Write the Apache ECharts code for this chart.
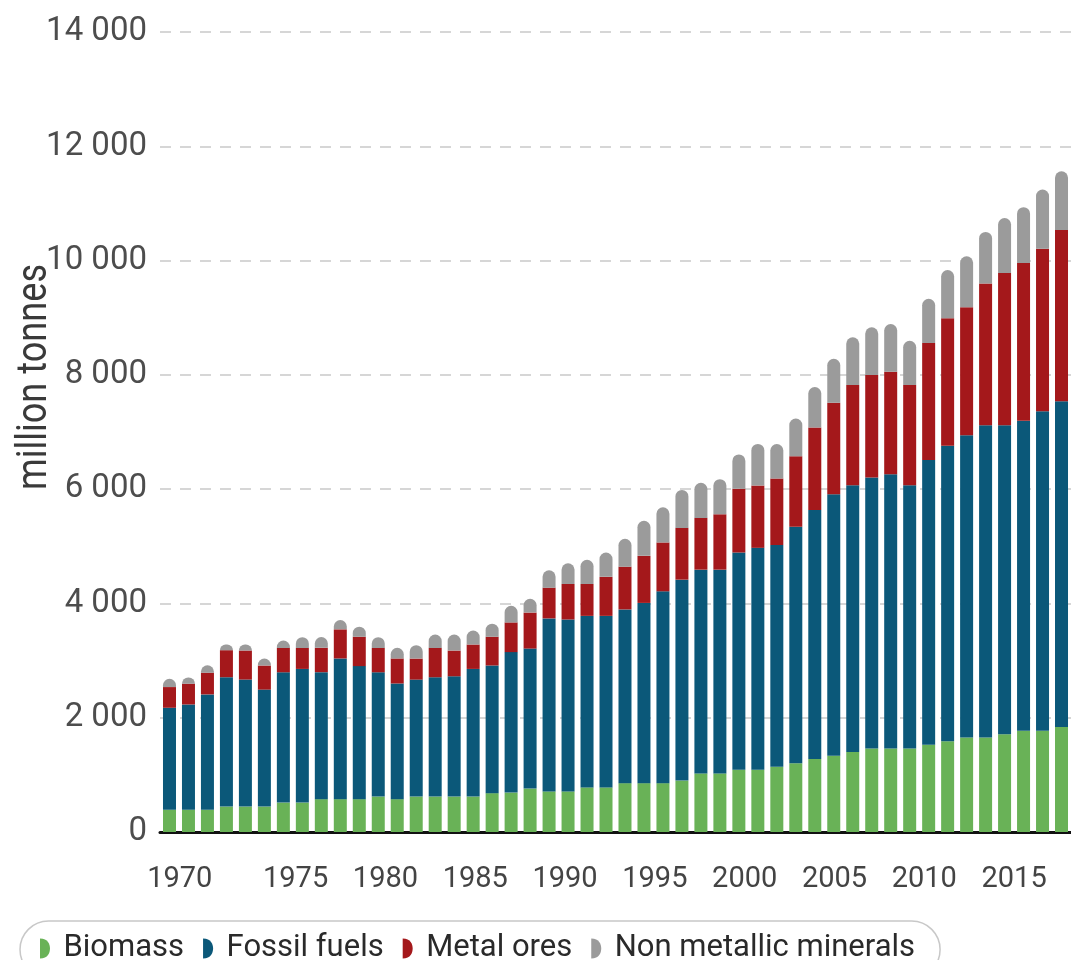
<!DOCTYPE html>
<html>
<head>
<meta charset="utf-8">
<script src="https://cdn.jsdelivr.net/npm/echarts@6/dist/echarts.min.js"></script>
<style>
  html, body { margin: 0; padding: 0; background: #ffffff; }
  #chart { width: 1071px; height: 960px; }
</style>
</head>
<body>
<div id="chart"></div>
<script>
// ---- data (million tonnes) ----
const years = [];
for (let y = 1970; y <= 2017; y++) years.push(String(y));

const biomass = [390, 390, 390, 445, 445, 445, 515, 515, 575, 575,
                 575, 620, 575, 620, 620, 620, 620, 680, 690, 760,
                 710, 710, 780, 780, 855, 855, 855, 900, 1025, 1025,
                 1090, 1090, 1140, 1205, 1277, 1336, 1402, 1461, 1461, 1461,
                 1528, 1586, 1653, 1653, 1711, 1770, 1770, 1836];

const fossilFuels = [1784, 1842, 2018, 2264, 2223, 2047, 2280, 2339, 2222, 2462,
                     2328, 2175, 2024, 2047, 2088, 2105, 2234, 2234, 2458, 2450,
                     3028, 3009, 3002, 3002, 3040, 3154, 3357, 3516, 3566, 3566,
                     3801, 3883, 3883, 4135, 4357, 4574, 4666, 4741, 4799, 4607,
                     4983, 5175, 5292, 5467, 5409, 5425, 5592, 5701];

const metalOres = [362, 363, 380, 473, 508, 421, 427, 368, 427, 509,
                   514, 427, 438, 368, 514, 450, 427, 503, 520, 630,
                   538, 621, 558, 684, 748, 824, 855, 906, 906, 969,
                   1115, 1090, 1165, 1235, 1444, 1602, 1753, 1794, 1795, 1753,
                   2045, 2229, 2237, 2479, 2663, 2763, 2846, 2997];

const nonMetallic = [146, 110, 128, 100, 106, 123, 129, 187, 187, 164,
                     176, 187, 187, 234, 234, 281, 245, 228, 290, 240,
                     305, 361, 424, 425, 488, 614, 615, 665, 614, 615,
                     601, 728, 602, 660, 710, 768, 835, 835, 835, 776,
                     776, 843, 893, 902, 960, 977, 1035, 1027];

const seriesNames = ['Biomass', 'Fossil fuels', 'Metal ores', 'Non metallic minerals'];
const yAxisTitle = 'million tonnes';

// ---- styling ----
const colors = ['#69b257', '#0b5879', '#a4181b', '#9b9b9b'];
const FONT = 'Roboto, "Noto Sans", sans-serif';
const dIcon = 'path://M0,0 C8,0 10,6 10,10 C10,14 8,20 0,20 Z';

function fmtThousands(v) {
  const s = String(Math.round(v));
  return s.replace(/\B(?=(\d{3})+(?!\d))/g, ' ');
}

const chart = echarts.init(document.getElementById('chart'), null, { renderer: 'canvas' });

const barBase = { type: 'bar', stack: 'total', barWidth: 13, xAxisIndex: 0, yAxisIndex: 0 };

const option = {
  backgroundColor: '#ffffff',
  animation: false,
  textStyle: { fontFamily: FONT },
  grid: [
    { left: 160, right: 0, top: 32, bottom: 128 },
    { left: 116, right: 1, top: 32, bottom: 128 }
  ],
  legend: {
    data: seriesNames.map((n, i) => ({ name: n, icon: dIcon, itemStyle: { color: colors[i] } })),
    left: 20,
    top: 921,
    orient: 'horizontal',
    itemWidth: 11,
    itemHeight: 20,
    itemGap: 19,
    padding: [12, 25, 14, 20],
    borderColor: '#c8c8c8',
    borderWidth: 1.5,
    borderRadius: 30,
    textStyle: { fontFamily: FONT, fontSize: 31, color: '#2a2a2a', padding: [0, 0, 0, 8] },
    selectedMode: false
  },
  xAxis: [
    {
      type: 'category',
      gridIndex: 0,
      data: years,
      boundaryGap: true,
      axisLine: { show: true, lineStyle: { color: '#111111', width: 3 } },
      axisTick: { show: false },
      axisLabel: { show: false },
      splitLine: { show: false }
    },
    {
      type: 'value',
      gridIndex: 1,
      min: 1965,
      max: 2018,
      interval: 5,
      axisLine: { show: false },
      axisTick: { show: false },
      splitLine: { show: false },
      axisLabel: {
        show: true,
        margin: 33,
        fontFamily: FONT,
        fontSize: 29,
        color: '#444444',
        showMinLabel: true,
        showMaxLabel: true,
        formatter: function (v) {
          if (v < 1970 || v % 5 !== 0) return '';
          if (v === 1970) return '{f|1970}';
          return String(v);
        },
        rich: {
          f: { fontFamily: FONT, fontSize: 29, color: '#444444', padding: [0, 52, 0, 0] }
        }
      }
    }
  ],
  yAxis: [
    {
      type: 'value',
      gridIndex: 0,
      min: 0,
      max: 14000,
      interval: 2000,
      axisLine: { show: false },
      axisTick: { show: false },
      axisLabel: {
        margin: 13,
        fontFamily: FONT,
        fontSize: 33,
        color: '#4d4d4d',
        formatter: fmtThousands
      },
      splitLine: {
        show: true,
        lineStyle: { color: '#c9c9c9', width: 1.5, type: [11, 9] }
      }
    },
    {
      type: 'value',
      gridIndex: 1,
      min: 0,
      max: 14000,
      show: false,
      splitLine: { show: false }
    }
  ],
  graphic: [
    {
      type: 'text',
      x: 35,
      y: 377,
      rotation: Math.PI / 2,
      scaleX: 0.86,
      style: {
        text: yAxisTitle,
        fontFamily: FONT,
        fontSize: 42,
        fill: '#3a3a3a',
        align: 'center',
        verticalAlign: 'middle'
      }
    }
  ],
  series: [
    Object.assign({}, barBase, { name: seriesNames[0], data: biomass, itemStyle: { color: colors[0] } }),
    Object.assign({}, barBase, { name: seriesNames[1], data: fossilFuels, itemStyle: { color: colors[1] } }),
    Object.assign({}, barBase, { name: seriesNames[2], data: metalOres, itemStyle: { color: colors[2] } }),
    Object.assign({}, barBase, { name: seriesNames[3], data: nonMetallic, itemStyle: { color: colors[3], borderRadius: [7, 7, 0, 0] } })
  ]
};

chart.setOption(option);
</script>
</body>
</html>
